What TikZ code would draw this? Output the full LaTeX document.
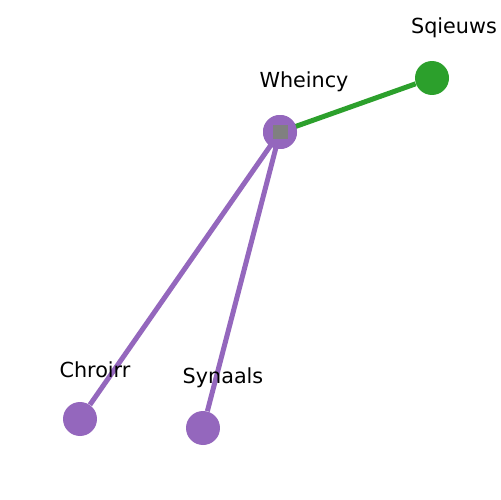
\documentclass[tikz,border=0pt]{standalone}
\usepackage{fontspec}
\setmainfont{DejaVu Sans}
\definecolor{tpurple}{HTML}{9467BD}
\definecolor{tgreen}{HTML}{2CA02C}
\begin{document}
\begin{tikzpicture}[x=0.02cm,y=-0.02cm,
  vert/.style={circle,minimum size=0.68cm,inner sep=0pt},
  lbl/.style={font=\fontsize{11.8}{14}\selectfont,text=black},
  edge/.style={line width=0.1cm}]
\useasboundingbox[fill=white] (0,0) rectangle (500,500);
\node[vert,fill=tpurple] (w) at (280,132) {};
\node[vert,fill=tgreen] (s) at (432,78) {};
\node[vert,fill=tpurple] (c) at (80,419) {};
\node[vert,fill=tpurple] (y) at (203,428) {};
\draw[edge,tgreen] (w.center) -- (s);
\draw[edge,tpurple] (w.center) -- (c);
\draw[edge,tpurple] (w.center) -- (y);
\node[vert,fill=tpurple] at (w) {};
\node[fill=gray,minimum size=0.3cm,inner sep=0pt] (sq) at (w) {};
\node[lbl] (lw) at (304,82) {Wheincy};
\node[lbl] (ls) at (454,28) {Sqieuws};
\node[lbl] (lc) at (95,370) {Chroirr};
\node[lbl] (ly) at (223,378) {Synaals};
\end{tikzpicture}
\end{document}
